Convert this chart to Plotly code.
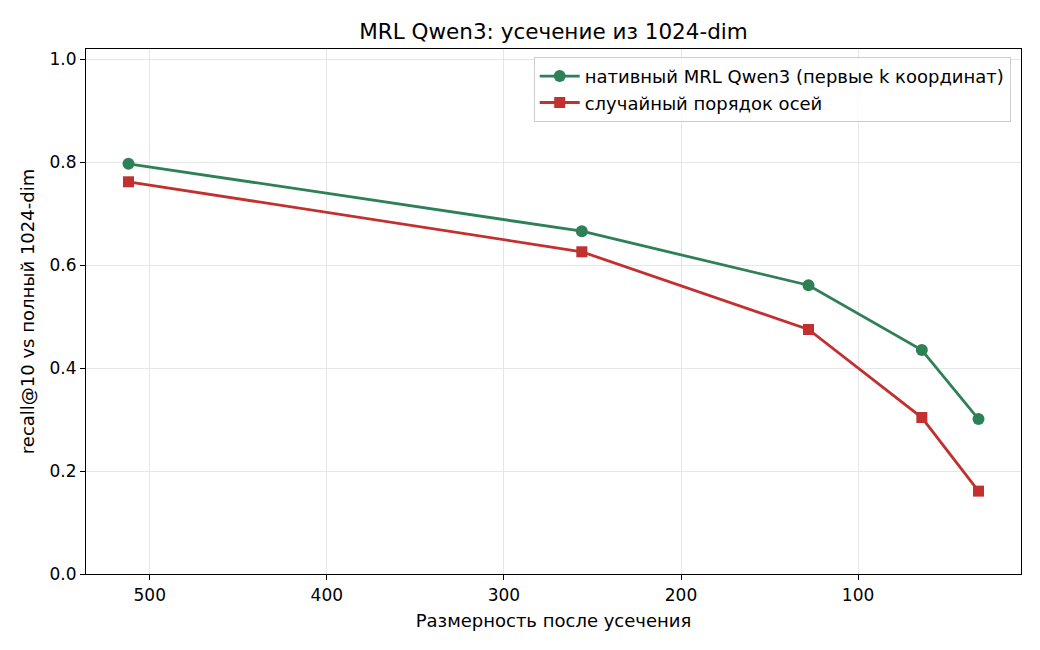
import plotly.graph_objects as go

dims = [512, 256, 128, 64, 32]
native_mrl = [0.797, 0.666, 0.561, 0.435, 0.301]
random_order = [0.762, 0.626, 0.475, 0.304, 0.161]
x_ticks = [500, 400, 300, 200, 100]
y_ticks = [0.0, 0.2, 0.4, 0.6, 0.8, 1.0]

font = "DejaVu Sans"
fig = go.Figure()
fig.add_trace(go.Scatter(
    x=dims, y=native_mrl, mode="lines+markers",
    name="нативный MRL Qwen3 (первые k координат)",
    line=dict(color="#2e8157", width=2.8),
    marker=dict(symbol="circle", size=12, color="#2e8157"),
))
fig.add_trace(go.Scatter(
    x=dims, y=random_order, mode="lines+markers",
    name="случайный порядок осей",
    line=dict(color="#c23030", width=2.8),
    marker=dict(symbol="square", size=11, color="#c23030"),
))

axis_common = dict(
    showline=True, linecolor="black", linewidth=1.2, mirror=True,
    ticks="outside", ticklen=5, tickcolor="black", tickwidth=1.2,
    showgrid=True, gridcolor="#e6e6e6", gridwidth=1, zeroline=False,
    tickfont=dict(family=font, size=17, color="black"),
)
fig.update_layout(
    width=1040, height=650,
    paper_bgcolor="white", plot_bgcolor="white",
    margin=dict(l=86, r=19, t=49, b=76),
    title=dict(text="MRL Qwen3: усечение из 1024-dim", xref="paper", x=0.5, xanchor="center",
               y=1 - 31 / 650, yanchor="middle",
               font=dict(family=font, size=21.5, color="black")),
    xaxis=dict(range=[536, 8], tickvals=x_ticks,
               title=dict(text="Размерность после усечения", standoff=10,
                          font=dict(family=font, size=18, color="black")),
               **axis_common),
    yaxis=dict(range=[0, 1.02], tickvals=y_ticks, tickformat=".1f",
               title=dict(text="recall@10 vs полный 1024-dim", standoff=10,
                          font=dict(family=font, size=18, color="black")),
               **axis_common),
    legend=dict(x=0.989, y=0.985, xanchor="right", yanchor="top",
                bgcolor="rgba(255,255,255,0.8)", bordercolor="#cccccc", borderwidth=1,
                font=dict(family=font, size=18, color="black"),
                tracegroupgap=0, itemwidth=40),
    showlegend=True,
)
fig.write_html("out.html")
